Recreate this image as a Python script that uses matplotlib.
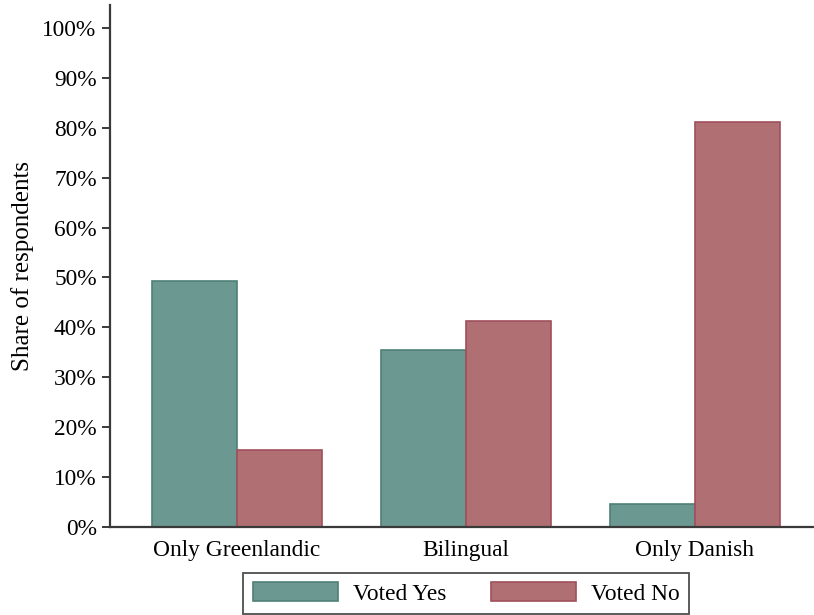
import numpy as np
import matplotlib
matplotlib.use('Agg')
import matplotlib.pyplot as plt
from matplotlib.ticker import FuncFormatter

# language groups and share voting yes / no (%)
groups = ['Only Greenlandic', 'Bilingual', 'Only Danish']
voted_yes = [49.3, 35.5, 4.6]
voted_no = [15.4, 41.3, 81.2]

plt.rcParams['font.family'] = ['Liberation Serif', 'DejaVu Serif']
plt.rcParams['font.size'] = 16.8

fig = plt.figure(figsize=(8.14, 6.15), dpi=100)
ax = fig.add_axes([0.135, 0.143, 0.865, 0.849])

x = np.arange(len(groups))
w = 0.373
ax.bar(x - w/2, voted_yes, w, color='#6b9992', edgecolor='#4e8077', lw=1.2, label='Voted Yes')
ax.bar(x + w/2, voted_no, w, color='#b07073', edgecolor='#a04f5b', lw=1.2, label='Voted No')

ax.set_xlim(-0.555, 2.52)
ax.set_ylim(0, 104.6)
ax.set_yticks(np.arange(0, 101, 10))
ax.yaxis.set_major_formatter(FuncFormatter(lambda v, p: '%d%%' % v))
ax.set_xticks(x)
ax.set_xticklabels(groups)
ax.tick_params(axis='x', length=0, pad=9)
ax.tick_params(axis='y', length=6, width=1.4, color='#3a3a3a', pad=3.5)

for s in ['top', 'right']:
    ax.spines[s].set_visible(False)
for s in ['left', 'bottom']:
    ax.spines[s].set_color('#3a3a3a')
    ax.spines[s].set_linewidth(1.6)

ax.set_ylabel('Share of respondents', fontsize=18, labelpad=6)

fig.legend(loc='center', bbox_to_anchor=(0.573, 0.035), ncol=2,
           frameon=True, fancybox=False, edgecolor='#222222',
           handlelength=3.65, handleheight=0.9, handletextpad=0.64,
           columnspacing=1.93, borderpad=0.4, borderaxespad=0)
fig.legends[0].get_frame().set_linewidth(1.3)

fig.savefig('out.png', dpi=100)
